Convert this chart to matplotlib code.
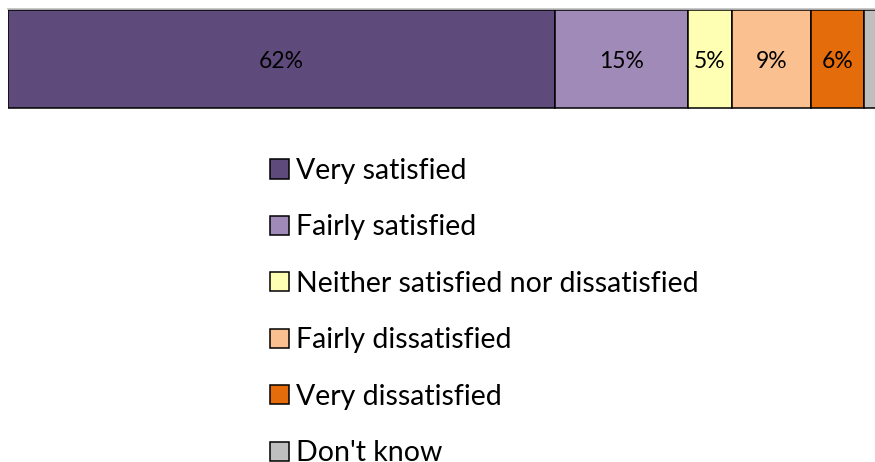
import matplotlib
matplotlib.use("Agg")
import matplotlib.pyplot as plt

categories = ["Very satisfied", "Fairly satisfied", "Neither satisfied nor dissatisfied",
              "Fairly dissatisfied", "Very dissatisfied", "Don't know"]
values = [62, 15, 5, 9, 6, 3]
labels = ["62%", "15%", "5%", "9%", "6%", ""]
colors = ["#5F4B7B", "#A08AB8", "#FFFFB3", "#FAC090", "#E46C0A", "#BFBFBF"]

plt.rcParams["font.family"] = ["Lato", "DejaVu Sans"]

W, H = 875, 462
fig = plt.figure(figsize=(W / 100, H / 100), dpi=100)

# bar axes: 0..100% spans a little more than the figure width
px_per_pct = 8.825
ax = fig.add_axes([8 / W, 1 - 109 / H, 100 * px_per_pct / W, 100 / H])
ax.set_xlim(0, 100)
ax.set_ylim(0, 1)

left = 0
bars = []
for cat, val, lab, col in zip(categories, values, labels, colors):
    b = ax.barh(0.5, val, left=left, height=0.98, color=col,
                edgecolor="black", linewidth=1.1, label=cat)
    bars.append(b)
    if lab:
        ax.text(left + val / 2, 0.47, lab, ha="center", va="center",
                fontsize=16.5, color="black")
    left += val

ax.set_xticks([])
ax.set_yticks([])
for side in ("left", "right", "bottom"):
    ax.spines[side].set_visible(False)
ax.spines["top"].set_color("#BFBFBF")
ax.spines["top"].set_linewidth(1.2)

handles = [b.patches[0] for b in bars]
fig.legend(handles, categories, loc="upper left",
           bbox_to_anchor=(270 / W, 1 - 158 / H),
           frameon=False, fontsize=20.5, handlelength=0.65, handleheight=0.65,
           handletextpad=0.28, labelspacing=1.07, borderpad=0, borderaxespad=0)

fig.savefig("out.png", dpi=100)
